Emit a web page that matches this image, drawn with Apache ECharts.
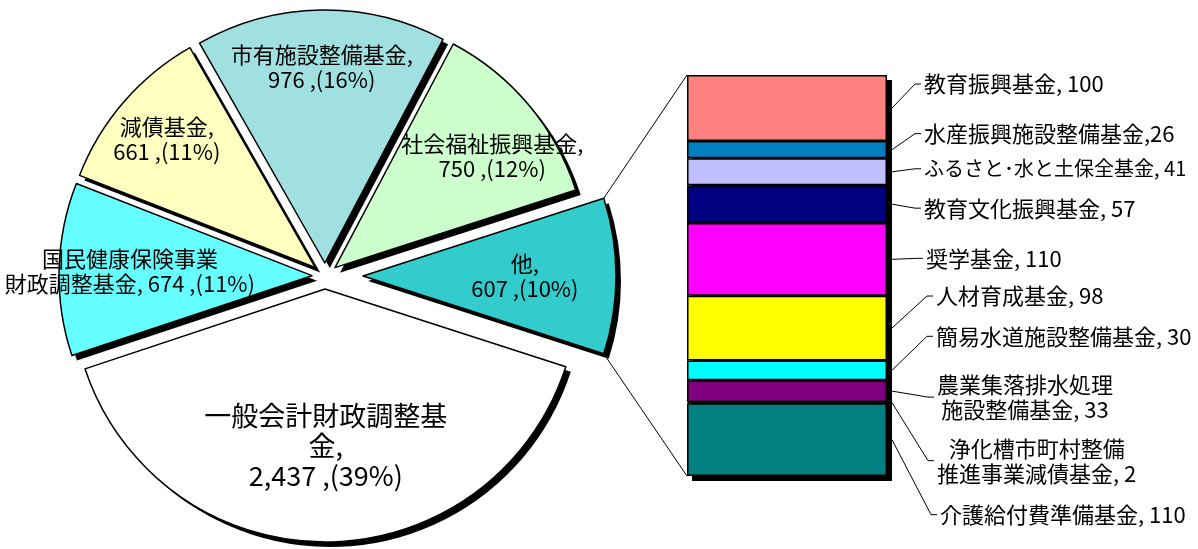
<!DOCTYPE html>
<html>
<head>
<meta charset="utf-8">
<script src="https://cdn.jsdelivr.net/npm/echarts@6/dist/echarts.min.js"></script>
<style>
  html, body { margin: 0; padding: 0; background: #ffffff; }
  #chart { width: 1198px; height: 549px; }
</style>
</head>
<body>
<div id="chart"></div>
<script>
// 基金残高の内訳（円グラフ）と「他」の内訳（積み上げ棒）
const pieNames  = ['一般会計財政調整基\n金', '国民健康保険事業\n財政調整基金', '減債基金', '市有施設整備基金', '社会福祉振興基金', '他'];
const pieValues = [2437, 674, 661, 976, 750, 607];
const pieShares = [39, 11, 11, 16, 12, 10];
const pieColors = ['#FFFFFF', '#66FFFF', '#FFFFC0', '#A0E0E0', '#CCFFCC', '#33CCCC'];

const otherNames  = ['教育振興基金', '水産振興施設整備基金', 'ふるさと･水と土保全基金', '教育文化振興基金', '奨学基金',
                     '人材育成基金', '簡易水道施設整備基金', '農業集落排水処理\n施設整備基金', '浄化槽市町村整備\n推進事業減債基金', '介護給付費準備基金'];
const otherValues = [100, 26, 41, 57, 110, 98, 30, 33, 2, 110];
const otherSep    = [', ', ',', ', ', ', ', ', ', ', ', ', ', ', ', ', ', ', '];
const otherColors = ['#FF8080', '#0080C0', '#C0C0FF', '#000080', '#FF00FF', '#FFFF00', '#00FFFF', '#800080', '#800000', '#008080'];

// layout
const FONT = '"Noto Sans CJK JP", "Noto Sans", sans-serif';
const PIE_C = [325, 276];
const PIE_R = 253;
const EXPLODE = 13;
const EXPLODE_OTHER = 38;
const SHADOW = 5;
const BAR = { left: 687, top: 75, width: 200, height: 401 };
const pieLabelBreak = [true, false, true, true, true, true];
const pieLabelRatio = [0.62, 0.72, 0.775, 0.775, 0.76, 0.64];
const pieLabelNudge = [[0, 0], [0, 0], [0, 0], [0, 0], [10, 12], [0, 0]];
const barLabelLeft  = [924, 924, 924, 924, 926, 936, 936, 937, 937, 940];
const barLabelShift = [-24, -16, -3, 4, -1, -32, -34, 6, 58, 75];
const barLabelSize  = [22, 22, 20, 22, 22, 22, 22, 22, 22, 22];

const pieTotal = pieValues.reduce((a, b) => a + b, 0);
const otherTotal = otherValues.reduce((a, b) => a + b, 0);
const OTHER = pieValues.length - 1;
// "他" is centred on the 3 o'clock direction
const startAngle = -pieValues[OTHER] / pieTotal * 180;

function midAngle(i) {
  let cum = 0;
  for (let k = 0; k < i; k++) cum += pieValues[k];
  return startAngle - (cum + pieValues[i] / 2) / pieTotal * 360;
}
function explode(i) { return i === OTHER ? EXPLODE_OTHER : EXPLODE; }

function pieLabelText(i) {
  return pieNames[i] + ',' + (pieLabelBreak[i] ? '\n' : ' ') +
    pieValues[i].toLocaleString('en-US') + ' ,(' + pieShares[i] + '%)';
}

function pieLabelPos(i) {
  const m = midAngle(i) * Math.PI / 180;
  const d = explode(i) + pieLabelRatio[i] * PIE_R;
  return {
    x: PIE_C[0] + Math.cos(m) * d + pieLabelNudge[i][0],
    y: PIE_C[1] - Math.sin(m) * d + pieLabelNudge[i][1]
  };
}

const hiddenItem = { color: 'rgba(0,0,0,0)', borderWidth: 0 };

// one pie per slice so every slice can be pulled out on its own;
// a black copy shifted down-right underneath gives the drop shadow
function sliceSeries(i, shadow) {
  const m = midAngle(i) * Math.PI / 180;
  const e = explode(i);
  const cx = PIE_C[0] + Math.cos(m) * e + (shadow ? SHADOW : 0);
  const cy = PIE_C[1] - Math.sin(m) * e + (shadow ? SHADOW : 0);
  const s = {
    type: 'pie',
    center: [cx, cy],
    radius: PIE_R,
    startAngle: startAngle,
    clockwise: true,
    avoidLabelOverlap: false,
    silent: true,
    emphasis: { disabled: true },
    labelLine: { show: false },
    label: shadow ? { show: false } : {
      show: true, position: 'inside', color: '#000', fontFamily: FONT,
      fontSize: i === 0 ? 27 : 22, lineHeight: i === 0 ? 30 : 25,
      align: 'center', verticalAlign: 'middle',
      formatter: () => pieLabelText(i)
    },
    data: pieNames.map((n, j) => ({
      name: n,
      value: pieValues[j],
      itemStyle: j !== i ? hiddenItem :
        (shadow ? { color: '#000', borderWidth: 0 }
                : { color: pieColors[j], borderColor: '#000', borderWidth: 1.5 }),
      label: j === i ? {} : { show: false }
    }))
  };
  if (!shadow) s.labelLayout = () => pieLabelPos(i);
  return s;
}

const shadowPies = pieNames.map((n, i) => sliceSeries(i, true));
const slicePies = pieNames.map((n, i) => sliceSeries(i, false));

const barShadow = {
  type: 'bar', xAxisIndex: 1, yAxisIndex: 1, barWidth: '100%', silent: true,
  data: [otherTotal], itemStyle: { color: '#000' }
};

const barSeries = otherNames.map((n, i) => ({
  type: 'bar',
  name: n,
  stack: 'other',
  barWidth: '100%',
  silent: true,
  data: [otherValues[i]],
  itemStyle: { color: otherColors[i], borderColor: '#000', borderWidth: 1.5 },
  label: {
    show: true, position: 'right', color: '#000', fontFamily: FONT, fontSize: barLabelSize[i],
    lineHeight: 25, align: 'center', verticalAlign: 'middle',
    formatter: (p) => n + otherSep[i] + p.value
  },
  labelLayout: (p) => ({
    x: barLabelLeft[i] + p.labelRect.width / 2,
    y: p.rect.y + p.rect.height / 2 + barLabelShift[i]
  })
}));

const chart = echarts.init(document.getElementById('chart'));
chart.setOption({
  animation: false,
  backgroundColor: '#ffffff',
  grid: [
    { left: BAR.left, top: BAR.top, width: BAR.width, height: BAR.height },
    { left: BAR.left + SHADOW, top: BAR.top + SHADOW, width: BAR.width, height: BAR.height }
  ],
  xAxis: [
    { type: 'category', data: [''], show: false, gridIndex: 0 },
    { type: 'category', data: [''], show: false, gridIndex: 1 }
  ],
  yAxis: [
    { type: 'value', min: 0, max: otherTotal, inverse: true, show: false, gridIndex: 0 },
    { type: 'value', min: 0, max: otherTotal, inverse: true, show: false, gridIndex: 1 }
  ],
  series: shadowPies.concat(slicePies, [barShadow], barSeries)
});

// connectors from "他" to the bar, and leader lines to the bar labels
const graphics = [];
const vx = PIE_C[0] + EXPLODE_OTHER, vy = PIE_C[1];
const aOther = pieValues[OTHER] / pieTotal * 360;
[startAngle + aOther, startAngle].forEach((deg, k) => {
  const a = deg * Math.PI / 180;
  const barY = chart.convertToPixel({ gridIndex: 0 }, [0, k === 0 ? 0 : otherTotal])[1];
  graphics.push({
    type: 'line', silent: true, z: 10,
    shape: { x1: vx + Math.cos(a) * PIE_R, y1: vy - Math.sin(a) * PIE_R, x2: BAR.left, y2: barY },
    style: { stroke: '#000', lineWidth: 1 }
  });
});
let cum = 0;
otherValues.forEach((v, i) => {
  const y0 = chart.convertToPixel({ gridIndex: 0 }, [0, cum])[1];
  const y1 = chart.convertToPixel({ gridIndex: 0 }, [0, cum + v])[1];
  cum += v;
  const yc = (y0 + y1) / 2;
  const ly = yc + barLabelShift[i];
  const lx = barLabelLeft[i];
  graphics.push({
    type: 'polyline', silent: true, z: 10,
    shape: { points: [[BAR.left + BAR.width + SHADOW, yc], [lx - 9, ly], [lx - 3, ly]] },
    style: { stroke: '#000', lineWidth: 1, fill: null }
  });
});
chart.setOption({ graphic: graphics });
</script>
</body>
</html>
